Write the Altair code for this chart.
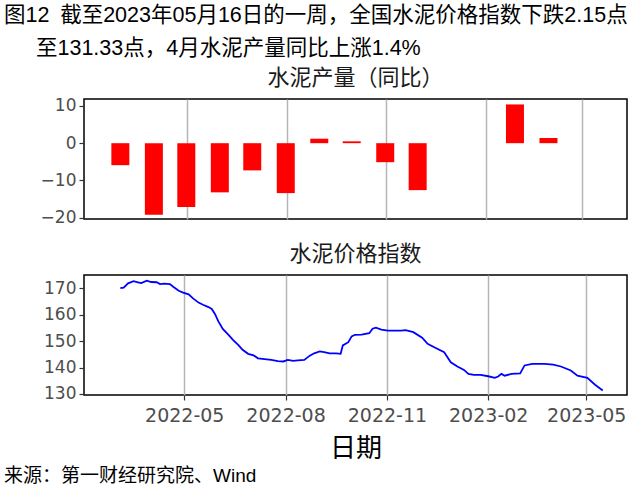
import altair as alt
import pandas as pd

# ---------------- data ----------------
bar_dates = ["2022-02-28", "2022-03-31", "2022-04-30", "2022-05-31", "2022-06-30",
             "2022-07-31", "2022-08-31", "2022-09-30", "2022-10-31", "2022-11-30",
             "2023-02-28", "2023-03-31"]
bar_values = [-5.9, -19.2, -17.1, -13.2, -7.3, -13.4, 1.2, 0.5, -5.1, -12.6, 10.4, 1.4]

line_dates = [
    "2022-03-04", "2022-03-07", "2022-03-11", "2022-03-16", "2022-03-20", "2022-03-23",
    "2022-03-28", "2022-04-01", "2022-04-06", "2022-04-09", "2022-04-13", "2022-04-18",
    "2022-04-21", "2022-04-26", "2022-04-30", "2022-05-05", "2022-05-09", "2022-05-14",
    "2022-05-18", "2022-05-23", "2022-05-26", "2022-05-29", "2022-06-01", "2022-06-05",
    "2022-06-10", "2022-06-14", "2022-06-19", "2022-06-23", "2022-06-28", "2022-07-03",
    "2022-07-07", "2022-07-13", "2022-07-19", "2022-07-25", "2022-07-30", "2022-08-03",
    "2022-08-08", "2022-08-12", "2022-08-18", "2022-08-23", "2022-08-27", "2022-09-01",
    "2022-09-05", "2022-09-10", "2022-09-16", "2022-09-20", "2022-09-22", "2022-09-27",
    "2022-09-30", "2022-10-03", "2022-10-09", "2022-10-16", "2022-10-19", "2022-10-22",
    "2022-10-27", "2022-11-02", "2022-11-08", "2022-11-14", "2022-11-18", "2022-11-25",
    "2022-12-03", "2022-12-08", "2022-12-14", "2022-12-23", "2022-12-26", "2022-12-29",
    "2023-01-04", "2023-01-10", "2023-01-14", "2023-01-19", "2023-01-25", "2023-02-01",
    "2023-02-07", "2023-02-10", "2023-02-13", "2023-02-16", "2023-02-22", "2023-03-02",
    "2023-03-06", "2023-03-13", "2023-03-24", "2023-04-01", "2023-04-08", "2023-04-17",
    "2023-04-23", "2023-05-02", "2023-05-09", "2023-05-16",
]
line_values = [
    170.1, 170.3, 171.9, 172.7, 172.3, 172.0,
    172.9, 172.4, 172.3, 171.6, 171.8, 171.6,
    170.6, 169.1, 168.4, 167.7, 166.2, 164.6,
    163.8, 162.9, 162.2, 160.2, 157.5, 154.6,
    152.5, 150.6, 148.6, 146.7, 145.2, 144.6,
    143.5, 143.2, 142.9, 142.4, 142.3, 142.9,
    142.5, 142.7, 142.9, 144.5, 145.4, 146.1,
    145.8, 145.4, 145.4, 145.2, 148.4, 149.6,
    151.8, 152.4, 152.5, 153.0, 154.7, 155.1,
    154.4, 154.0, 154.0, 154.0, 154.2, 153.4,
    151.3, 149.0, 147.7, 145.8, 143.9, 142.0,
    140.4, 139.1, 137.6, 137.2, 137.2, 136.7,
    136.1, 136.6, 137.6, 136.9, 137.6, 137.8,
    140.8, 141.4, 141.4, 141.1, 140.4, 138.9,
    136.9, 136.1, 133.5, 131.33,
]

x_ticks = ["2022-05-01", "2022-08-01", "2022-11-01", "2023-02-01", "2023-05-01"]
x_domain = ["2022-01-30", "2023-06-07"]
bar_y_ticks = [-20, -10, 0, 10]
bar_y_domain = [-20.35, 11.86]
line_y_ticks = [130, 140, 150, 160, 170]
line_y_domain = [129.6, 175.05]

title_lines = ["图12\u2002截至2023年05月16日的一周，全国水泥价格指数下跌2.15点",
               "至131.33点，4月水泥产量同比上涨1.4%"]
bar_title = "水泥产量（同比）"
line_title = "水泥价格指数"
x_title = "日期"
source_text = "来源：第一财经研究院、Wind"

# ---------------- helpers ----------------
def dt(s):
    y, m, d = (int(p) for p in s.split("-"))
    return alt.DateTime(year=y, month=m, date=d, utc=True)

W, H = 543, 120
CJK = "Liberation Sans, Noto Sans CJK SC"
NUM = "DejaVu Sans"

xscale = alt.Scale(type="utc", domain=[dt(d) for d in x_domain])

bars_df = pd.DataFrame({"date": bar_dates, "value": bar_values})
line_df = pd.DataFrame({"date": line_dates, "value": line_values})


def text_layer(txt, x, y, size, align="left", color="black", font=CJK, dx=0):
    return alt.Chart(pd.DataFrame({"t": [txt]})).mark_text(
        align=align, baseline="middle", fontSize=size, font=font, color=color, dx=dx
    ).encode(text="t:N", x=alt.value(x), y=alt.value(y))


bars = alt.Chart(bars_df).mark_bar(color="#FF0000", size=18).encode(
    x=alt.X("date:T", scale=xscale,
            axis=alt.Axis(values=[dt(d) for d in x_ticks], labels=False, ticks=False,
                          title=None, grid=True)),
    y=alt.Y("value:Q", scale=alt.Scale(domain=bar_y_domain, nice=False, zero=False),
            axis=alt.Axis(values=bar_y_ticks, title=None, grid=False)),
)

top = alt.layer(
    bars,
    text_layer(title_lines[0], -80, -83, 21.5),
    text_layer(title_lines[1], -80, -50, 21.5, dx=32),
    text_layer(bar_title, W / 2, -21, 22, align="center", color="#1a1a1a"),
).properties(width=W, height=H)

line = alt.Chart(line_df).mark_line(color="#0000FF", strokeWidth=1.8).encode(
    x=alt.X("date:T", scale=xscale,
            axis=alt.Axis(values=[dt(d) for d in x_ticks], format="%Y-%m", title=x_title,
                          grid=True, titleFont=CJK, titleFontSize=26, labelPadding=6,
                          titleFontWeight="normal", titleColor="black", titlePadding=10)),
    y=alt.Y("value:Q", scale=alt.Scale(domain=line_y_domain, nice=False, zero=False),
            axis=alt.Axis(values=line_y_ticks, title=None, grid=False)),
)

bottom = alt.layer(
    line,
    text_layer(line_title, W / 2, -21, 22, align="center", color="#1a1a1a"),
    text_layer(source_text, -80, 201, 19),
).properties(width=W, height=H)

chart = alt.vconcat(top, bottom, spacing=15).properties(
    padding={"left": 3, "top": 4, "right": 10, "bottom": 5}
).configure_view(
    stroke="black", strokeWidth=1.5
).configure_axis(
    labelFont=NUM, labelFontSize=17, labelColor="#4d4d4d",
    tickColor="#333333", tickSize=5, tickWidth=1.2, labelPadding=3,
    domain=False, gridColor="#b5b5b5", gridWidth=1.5,
).configure_axisX(labelFontSize=19)

chart.save("out.html", embed_options={"renderer": "svg", "actions": False})
